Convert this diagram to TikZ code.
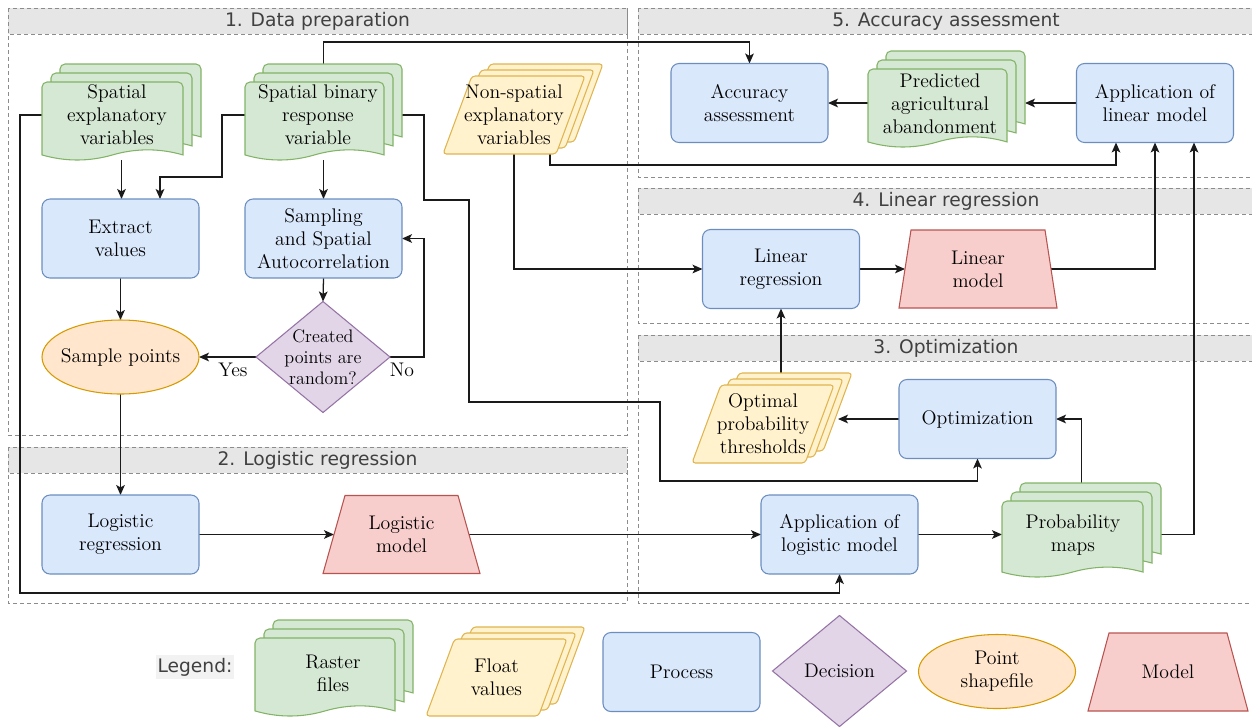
\documentclass[tikz,border=0pt]{standalone}
\usepackage{fontspec}
\newfontfamily\hdrfont{DejaVu Sans}
\usetikzlibrary{shapes.geometric,arrows.meta,calc}
\pgfdeclarelayer{secl}\pgfdeclarelayer{conl}\pgfdeclarelayer{shpl}
\pgfsetlayers{secl,conl,shpl,main}
\definecolor{gfill}{HTML}{D5E8D4}\definecolor{gdraw}{HTML}{82B366}
\definecolor{yfill}{HTML}{FFF2CC}\definecolor{ydraw}{HTML}{E0B450}
\definecolor{bfill}{HTML}{DAE8FC}\definecolor{bdraw}{HTML}{6C8EBF}
\definecolor{pfill}{HTML}{E1D5E7}\definecolor{pdraw}{HTML}{9673A6}
\definecolor{ofill}{HTML}{FFE6CC}\definecolor{odraw}{HTML}{D79B00}
\definecolor{rfill}{HTML}{F8CECC}\definecolor{rdraw}{HTML}{B85450}
\definecolor{secline}{HTML}{8C8C8C}\definecolor{secfill}{HTML}{E6E6E6}
\definecolor{sectext}{HTML}{404040}\definecolor{linec}{HTML}{1A1A1A}
\definecolor{legbg}{HTML}{F2F2F2}
\tikzset{
 base/.style={font=\fontsize{14.8}{17.25}\selectfont, align=center, inner sep=0pt, outer sep=0pt},
 shp/.style={line width=0.8pt},
 proc/.style={base, shp, rectangle, rounded corners=6pt, fill=bfill, draw=bdraw, minimum width=117.75pt, minimum height=59.25pt},
 decision/.style={shp, diamond, fill=pfill, draw=pdraw, inner sep=0pt, outer sep=0pt, minimum width=100.5pt, minimum height=83.25pt},
 pointshp/.style={shp, ellipse, fill=ofill, draw=odraw, inner sep=0pt, outer sep=0pt, minimum width=117.75pt, minimum height=55.5pt},
 gsheet/.style={shp, fill=gfill, draw=gdraw},
 ysheet/.style={shp, fill=yfill, draw=ydraw, rounded corners=2.5pt},
 rsheet/.style={shp, fill=rfill, draw=rdraw},
 holder/.style={base, rectangle, draw=none, fill=none},
 dtext/.style={base, font=\fontsize{13.6}{15.75}\selectfont},
 conn/.style={line width=0.95pt, draw=linec, -{Stealth[length=7.5pt,width=6.5pt,inset=1.8pt]}},
 secdash/.style={draw=secline, line width=0.75pt, dash pattern=on 3pt off 2.25pt},
 hdr/.style={font=\hdrfont\fontsize{14}{16}\selectfont, text=sectext, inner sep=0pt},
 legbox/.style={font=\hdrfont\fontsize{14}{16}\selectfont, text=sectext, fill=legbg, minimum width=58.5pt, minimum height=18pt, inner sep=0pt},
}
% document sheet: left, top, right, bottom(trough)
\newcommand\docsheet[4]{%
 \pgfmathsetmacro\dA{#1}\pgfmathsetmacro\dB{#2}\pgfmathsetmacro\dC{#3}\pgfmathsetmacro\dE{#4}%
 \pgfmathsetmacro\dH{\dE-\dB}\pgfmathsetmacro\dP{0.065*\dH}%
 \pgfmathsetmacro\dY{\dE-\dP}\pgfmathsetmacro\dU{\dE-7*\dP/3}\pgfmathsetmacro\dL{\dE+\dP/3}%
 \pgfmathsetmacro\dM{(\dA+\dC)/2}\pgfmathsetmacro\dS{(\dC-\dA)/6}%
 \filldraw[gsheet] (\dA,\dY) -- (\dA,\dB+5) arc[start angle=180,end angle=270,radius=5]
  -- (\dC-5,\dB) arc[start angle=270,end angle=360,radius=5] -- (\dC,\dY)
  .. controls (\dC-\dS,\dU) and (\dM+\dS,\dU) .. (\dM,\dY)
  .. controls (\dM-\dS,\dL) and (\dA+\dS,\dL) .. (\dA,\dY) -- cycle;}
% raster stack: name, front x0,y0,x1,y1, text dx, dy, text
\newcommand\rasterstack[8]{%
 \docsheet{#2+18}{#3-18}{#4+18}{#5-18}%
 \docsheet{#2+9}{#3-9}{#4+9}{#5-9}%
 \docsheet{#2}{#3}{#4}{#5}%
 \node[holder, minimum width={(#4-#2+18)*0.75pt}, minimum height={(#5-#3+18)*0.75pt},
   label={[base, xshift={(#6)*0.75pt}, yshift={(#7)*(-0.75pt)}]center:{#8}}] (#1) at ({(#2+#4+18)/2},{(#3+#5-18)/2}) {};}
% parallelogram sheet: bottom-left x, top y, top-right x, bottom y
\newcommand\parasheet[4]{%
 \pgfmathsetmacro\qA{#1}\pgfmathsetmacro\qB{#2}\pgfmathsetmacro\qC{#3}\pgfmathsetmacro\qE{#4}%
 \pgfmathsetmacro\qS{0.37*(\qE-\qB)}%
 \filldraw[ysheet] (\qA,\qE) -- (\qA+\qS,\qB) -- (\qC,\qB) -- (\qC-\qS,\qE) -- cycle;}
\newcommand\floatstack[6]{%
 \parasheet{#2+18}{#3-12}{#4+18}{#5-12}%
 \parasheet{#2+9}{#3-6}{#4+9}{#5-6}%
 \parasheet{#2}{#3}{#4}{#5}%
 \node[holder, minimum width={(#4-#2)*0.75pt}, minimum height={(#5-#3)*0.75pt}] (#1) at ({(#2+#4)/2},{(#3+#5)/2}) {#6};}
% trapezoid model: name, cx, cy, bottom width, height, inset, text
\newcommand\trapz[7]{%
 \node[holder, minimum width={(#4)*0.75pt}, minimum height={(#5)*0.75pt}] (#1) at (#2,#3) {#7};
 \begin{pgfonlayer}{shpl}
 \filldraw[rsheet] (#1.south west) -- ($(#1.north west)+(#6,0)$) -- ($(#1.north east)+(-#6,0)$) -- (#1.south east) -- cycle;
 \end{pgfonlayer}}
\newcommand\secbox[6]{%
 \draw[secdash] (#2,#3) rectangle (#4,#5);
 \draw[secdash, fill=secfill] (#2,#3) rectangle (#4,{#3+26});
 \node[hdr] (#1) at ({(#2+#4)/2},{#3+13.5}) {#6};}
\begin{document}
\begin{tikzpicture}[x=0.75pt,y=-0.75pt]
\useasboundingbox (0,0) rectangle (1252,726);
\begin{pgfonlayer}{secl}
\secbox{s1}{8}{8}{627}{435}{1. Data preparation}
\secbox{s5}{638}{8}{1254}{177}{5. Accuracy assessment}
\secbox{s4}{638}{188}{1254}{323}{4. Linear regression}
\secbox{s3}{638}{335}{1254}{603}{3. Optimization}
\secbox{s2}{8}{447}{627}{603}{2. Logistic regression}
\end{pgfonlayer}
% Section 1
\rasterstack{sev}{42}{82}{183}{160}{-4.5}{3}{Spatial\\explanatory\\variables}
\rasterstack{sbr}{245}{82}{384}{160}{-5.5}{3}{Spatial binary\\response\\variable}
\floatstack{nsev}{443}{76}{585}{154}{Non-spatial\\explanatory\\variables}
\node[proc] (extract) at (120.5,238.5) {Extract\\values};
\node[proc] (sampling) at (323.5,238.5) {Sampling\\and Spatial\\Autocorrelation};
\node[pointshp, label={[base]center:Sample points}] (samplepts) at (120.5,357) {};
\node[decision, label={[dtext]center:{Created\\points are\\random?}}] (dec) at (323,357) {};
\node[base] (yes) at (233,370) {Yes};
\node[base] (no) at (402,370) {No};
% Section 2
\node[proc] (logreg) at (120.5,534.5) {Logistic\\regression};
\trapz{logmod}{401.5}{534.5}{157}{78}{22}{Logistic\\model}
% Section 5
\node[proc] (acc) at (749.5,103) {Accuracy\\assessment};
\rasterstack{pred}{868}{69}{1007}{147}{-6.5}{5}{Predicted\\agricultural\\abandonment}
\node[proc] (applin) at (1155,103) {Application of\\linear model};
% Section 4
\node[proc] (linreg) at (781,269) {Linear\\regression};
\trapz{linmod}{978}{269}{158}{78}{12}{Linear\\model}
% Section 3
\floatstack{optthr}{692}{385}{834}{463}{Optimal\\probability\\thresholds}
\node[proc] (opt) at (977.5,419) {Optimization};
\node[proc] (applog) at (839.5,534.5) {Application of\\logistic model};
\rasterstack{pm}{1002}{501}{1143}{577}{-8.5}{5}{Probability\\maps}
% Legend
\node[legbox] (leg) at (195,667) {Legend:};
\rasterstack{lraster}{255}{638}{395}{716}{-1}{5}{Raster\\files}
\floatstack{lfloat}{426}{639}{567}{716}{Float\\values}
\node[proc] (lproc) at (681.5,672) {Process};
\node[decision, label={[base]center:Decision}] (ldec) at (839.5,671) {};
\node[pointshp, label={[base]center:{Point\\shapefile}}] (lpoint) at (997,671.5) {};
\trapz{lmodel}{1168}{672}{160}{78}{21}{Model}
% Connectors
\begin{pgfonlayer}{conl}
\draw[conn] (sbr.north) -- ++(0,-22) -| (acc.north);
\draw[conn] ($(sev.west)+(0,3)$) -| (20,593) -| (applog.south);
\draw[conn] (sev.south) -- (sev.south |- extract.north);
\draw[conn] ($(sbr.west)+(0,3)$) -| (222,177) -| ($(extract.north)+(39.5,0)$);
\draw[conn] (sbr.south) -- (sampling.north);
\draw[conn] ($(sbr.east)+(0,3)$) -| (424,200) -| (469,402) -| (660,481) -| (opt.south);
\draw[conn] (extract.south) -- (samplepts.north);
\draw[conn] (sampling.south) -- (dec.north);
\draw[conn] (dec.west) -- (samplepts.east);
\draw[conn] (dec.east) -- ++(34,0) |- (sampling.east);
\draw[conn] (samplepts.south) -- (logreg.north);
\draw[conn] (logreg.east) -- ($(logmod.west)+(11,0)$);
\draw[conn] ($(logmod.east)+(-11,0)$) -- (applog.west);
\draw[conn] (applog.east) -- (applog.east -| pm.west);
\draw[conn] (pm.north) |- (opt.east);
\draw[conn] (opt.west) -- ($(optthr.east |- opt.west)+(4,0)$);
\draw[conn] ($(optthr.north -| linreg.south)+(0,-12)$) -- (linreg.south);
\draw[conn] (nsev.south) |- (linreg.west);
\draw[conn] ($(nsev.south)+(36,0)$) -- ++(0,11) -| ($(applin.south)+(-39,0)$);
\draw[conn] (linreg.east) -- ($(linmod.west)+(6,0)$);
\draw[conn] ($(linmod.east)+(-6,0)$) -| (applin.south);
\draw[conn] (applog.east -| pm.east) -| ($(applin.south)+(39,0)$);
\draw[conn] (applin.west) -- (applin.west -| pred.east);
\draw[conn] (acc.east -| pred.west) -- (acc.east);
\end{pgfonlayer}
\end{tikzpicture}
\end{document}
